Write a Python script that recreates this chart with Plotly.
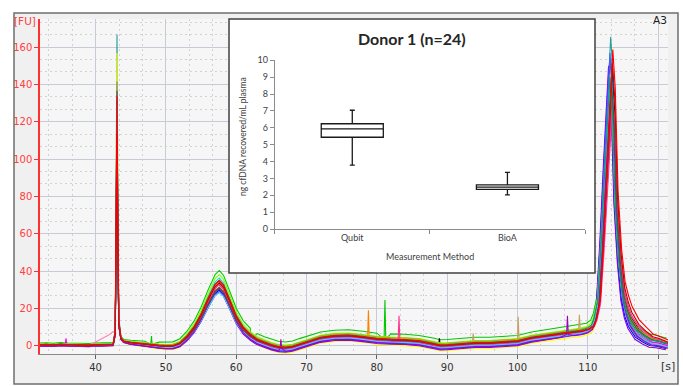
import plotly.graph_objects as go

# ---------------- electropherogram data ----------------
# sample times [s]
times = [32.1, 33, 34, 35, 36, 37, 38, 39, 40, 41, 42, 42.5, 42.8, 42.95, 43.05, 43.15, 43.3, 43.6,
         44, 45, 46, 47, 48, 49, 50, 51, 52, 53, 54, 55, 56, 57, 57.6, 58.2, 59, 60, 61, 62, 63, 64,
         65, 66, 67, 68, 69, 70, 71, 72, 74, 76, 78, 80, 82, 84, 86, 88, 89, 90, 92, 94, 96, 98, 100,
         102, 104, 106, 108, 109, 110, 110.6, 111, 111.5, 112, 112.5, 113, 113.25, 113.6, 114, 114.5,
         115, 115.5, 116, 117, 118, 119, 120, 121, 121.4]
# common baseline [FU]
background = [0.3, 0.5, 0.2, 0.6, 0.4, 0.2, 0.3, 0.1, 0.3, 0.4, 0.5, 0.6, 0.8, 1.0, 1.5, 2.0, 2.5, 2.8,
              2.3, 1.5, 1.0, 0.6, 0.2, -0.2, -0.5, -0.4, 0.0, 0.2, 0.3, 0.3, 0.3, 0.3, 0.3, 0.2, 0.2, 0.1, 0.0, 0.0, -0.3, -0.5,
              -1.0, -1.5, -1.5, -1.0, 0.3, 1.5, 2.8, 3.8, 4.8, 5.0, 4.2, 3.2, 2.8, 2.6, 2.0, 0.6, -0.3, -0.2, 0.4, 1.0, 1.0, 1.4, 2.0,
              3.8, 5.0, 6.0, 7.0, 7.5, 8.5, 9.5, 10, 10, 10, 10, 10, 10, 10, 8, 7,
              6, 5.5, 5, 4, 3, 2, 1.5, 0.5, 0.2]
# relative shape of the lower marker (43 s)
lower_marker = [0, 0, 0, 0, 0, 0, 0, 0, 0, 0, 0, 0, 0.05, 0.6, 1.0, 0.55, 0.08, 0.01,
                0, 0, 0, 0, 0, 0, 0, 0, 0, 0, 0, 0, 0, 0, 0, 0, 0, 0, 0, 0, 0, 0,
                0, 0, 0, 0, 0, 0, 0, 0, 0, 0, 0, 0, 0, 0, 0, 0, 0, 0, 0, 0, 0, 0, 0,
                0, 0, 0, 0, 0, 0, 0, 0, 0, 0, 0, 0, 0, 0, 0, 0,
                0, 0, 0, 0, 0, 0, 0, 0, 0]
# relative shape of the cfDNA fragment peak (~57.6 s)
fragment_peak = [0, 0, 0, 0, 0, 0, 0, 0, 0, 0, 0, 0, 0, 0, 0, 0, 0, 0,
                 0, 0, 0, 0, 0, 0, 0, 0, 0.03, 0.13, 0.27, 0.47, 0.72, 0.94, 1.0, 0.93, 0.72, 0.45, 0.27, 0.16, 0.09, 0.05,
                 0.025, 0.01, 0, 0, 0, 0, 0, 0, 0, 0, 0, 0, 0, 0, 0, 0, 0, 0, 0, 0, 0, 0, 0,
                 0, 0, 0, 0, 0, 0, 0, 0, 0, 0, 0, 0, 0, 0, 0, 0,
                 0, 0, 0, 0, 0, 0, 0, 0, 0]
# relative shape of the upper marker (~113 s)
upper_marker = [0, 0, 0, 0, 0, 0, 0, 0, 0, 0, 0, 0, 0, 0, 0, 0, 0, 0,
                0, 0, 0, 0, 0, 0, 0, 0, 0, 0, 0, 0, 0, 0, 0, 0, 0, 0, 0, 0, 0, 0,
                0, 0, 0, 0, 0, 0, 0, 0, 0, 0, 0, 0, 0, 0, 0, 0, 0, 0, 0, 0, 0, 0, 0,
                0, 0, 0, 0, 0, 0, 0.005, 0.03, 0.1, 0.33, 0.62, 0.9, 1.0, 0.86, 0.5, 0.28,
                0.15, 0.09, 0.055, 0.02, 0.008, 0, 0, 0, 0]
# tail after the upper marker
marker_tail = [0, 0, 0, 0, 0, 0, 0, 0, 0, 0, 0, 0, 0, 0, 0, 0, 0, 0,
               0, 0, 0, 0, 0, 0, 0, 0, 0, 0, 0, 0, 0, 0, 0, 0, 0, 0, 0, 0, 0, 0,
               0, 0, 0, 0, 0, 0, 0, 0, 0, 0, 0, 0, 0, 0, 0, 0, 0, 0, 0, 0, 0, 0, 0,
               0, 0, 0, 0, 0, 0, 0, 0, 0, 0, 0, 0, 0, 0, 0, 0.3,
               0.6, 0.8, 0.8, 0.7, 0.55, 0.4, 0.3, 0.2, 0.2]
# how strongly each sample's baseline offset shows along the run
drift = [0.3, 0.3, 0.3, 0.3, 0.3, 0.3, 0.3, 0.3, 0.3, 0.3, 0.3, 0.3, 0.3, 0.3, 0.3, 0.3, 0.3, 0.3,
         0.3, 0.4, 0.45, 0.5, 0.55, 0.6, 0.65, 0.7, 0.75, 0.8, 0.85, 0.9, 0.95, 1, 1, 1, 1, 1, 1, 1, 1, 1,
         1, 1, 1, 1, 1, 1, 1, 1, 1, 1, 1, 1, 1, 1, 1, 1, 1, 1, 1, 1, 1, 1, 1,
         1, 1, 1, 1, 1, 1, 1, 1, 1, 1, 1, 1, 1, 1, 1, 1,
         1, 1, 1, 1, 1, 1, 1, 1, 1]

# 24 samples
trace_colors = ["#2a9d9d", "#ffff00", "#808080", "#00c800", "#0000ff", "#ff00ff", "#00e0e0", "#000000",
                "#ff8000", "#8000ff", "#c8a064", "#ff80c0", "#80ff00", "#008080", "#a05020", "#4060ff",
                "#b0b000", "#ff3090", "#60c0ff", "#a000c0", "#505050", "#00a070", "#c00000", "#ff0000"]
lower_marker_height = [165, 156, 140, 120, 118, 110, 125, 115, 100, 112, 120, 122,
                       104, 130, 108, 115, 118, 125, 128, 110, 135, 118, 112, 132]
fragment_height = [28, 35, 31, 36.5, 31, 33, 35, 32, 34, 30.5, 33, 32,
                   36, 29.5, 31, 30, 33, 33, 29, 32, 30, 34, 33, 34]
upper_marker_height = [155, 138, 125, 130, 140, 120, 132, 135, 128, 142, 118, 124,
                       134, 145, 123, 148, 128, 122, 136, 131, 127, 133, 141, 148]
upper_marker_shift = [0.0, 0.1, -0.1, -0.2, -0.25, 0.15, 0.0, 0.2, 0.05, -0.3, 0.1, 0.25,
                      -0.15, 0.0, 0.2, -0.1, 0.1, 0.3, -0.05, 0.05, 0.15, -0.1, 0.25, 0.3]
baseline_offset = [0.5, -2.5, 0.0, 3.5, -1.5, -0.5, 1.0, 0.5, 0.8, -2.0, 1.2, 0.5,
                   1.8, -1.0, 0.0, -1.2, 1.5, 0.0, -0.8, -1.6, 0.2, 0.8, 0.4, 0.6]
tail_height = [1, -1, 0, 2, -1, 1, 0, 3, 1, -2, 2, 4,
               0, 0, 3, -1, 1, 5, 0, 0, 2, 1, 6, 9]
# narrow spikes: (sample, time, baseline there, tip)
spikes = [(8, 78.8, 4.0, 19.0), (3, 81.15, 3.5, 24.5), (17, 83.15, 3.0, 16.0),
          (10, 100.1, 3.0, 15.5), (19, 107.1, 6.0, 16.0), (10, 108.8, 8.0, 16.5),
          (3, 47.96, 0.8, 5.2), (3, 62.2, 4.0, 7.0), (19, 66.35, -1.5, 3.4),
          (5, 35.8, 0.3, 4.0), (7, 88.9, 0.5, 4.0), (10, 93.7, 2.0, 6.6)]
# pink sample with a ramp before the lower marker
ramp_sample = 11
ramp_points = {40: 2.0, 41: 4.0, 42: 6.0, 42.5: 7.5}

# ---------------- inset box plot data ----------------
methods = ["Qubit", "BioA"]
box_q1 = [5.44, 2.35]
box_median = [5.93, 2.48]
box_q3 = [6.24, 2.61]
box_low = [3.79, 2.02]
box_high = [7.04, 3.36]

# ---------------- figure ----------------
W, H = 683, 386
L, R, T, B = 40, 15, 19, 32
PW, PH = W - L - R, H - T - B


def px(xp):
    return (xp - L) / PW


def py(yp):
    return (H - B - yp) / PH


fig = go.Figure()

for i, col in enumerate(trace_colors):
    pts = []
    for k, t in enumerate(times):
        y = (background[k] + drift[k] * baseline_offset[i] + lower_marker[k] * lower_marker_height[i]
             + fragment_peak[k] * fragment_height[i] + upper_marker[k] * upper_marker_height[i]
             + marker_tail[k] * tail_height[i])
        if i == ramp_sample and t in ramp_points:
            y = ramp_points[t]
        x = t + (upper_marker_shift[i] if t >= 106 else 0.0)
        pts.append((x, y))
    for (s, ts, yb, yt) in spikes:
        if s == i:
            pts += [(ts - 0.12, yb), (ts, yt), (ts + 0.12, yb)]
    pts.sort(key=lambda p: p[0])
    fig.add_trace(go.Scatter(x=[p[0] for p in pts], y=[p[1] for p in pts], mode="lines",
                             line=dict(color=col, width=1.1), hoverinfo="skip", showlegend=False))

fig.add_trace(go.Box(x=methods, q1=box_q1, median=box_median, q3=box_q3,
                     lowerfence=box_low, upperfence=box_high, xaxis="x2", yaxis="y2",
                     fillcolor="white", line=dict(color="#1a1a1a", width=1.3),
                     whiskerwidth=0.08, width=0.4, boxpoints=False, showlegend=False,
                     hoverinfo="skip"))

main_font = "DejaVu Sans"
inset_font = "Lato"

fig.update_layout(
    width=W, height=H, margin=dict(l=L, r=R, t=T, b=B),
    paper_bgcolor="white", plot_bgcolor="rgba(0,0,0,0)",
    xaxis=dict(range=[32.1, 121.4], tickvals=[40, 50, 60, 70, 80, 90, 100, 110, 120],
               ticktext=["40", "50", "60", "70", "80", "90", "100", "110", ""],
               ticks="outside", ticklen=4, tickcolor="#606060",
               tickfont=dict(family=main_font, size=10, color="#333333"),
               showline=True, linecolor="#8a8a8a", linewidth=1.2, zeroline=False,
               showgrid=True, gridcolor="#c6cbd6", gridwidth=1,
               minor=dict(tick0=40, dtick=10 / 3, showgrid=True, gridcolor="#d2d2d2",
                          griddash="2px,3px", ticks=""),
               fixedrange=True),
    yaxis=dict(range=[-4.45, 175], tickvals=[0, 20, 40, 60, 80, 100, 120, 140, 160],
               ticks="outside", ticklen=4, tickcolor="#ff3030",
               tickfont=dict(family=main_font, size=10, color="#ff4040"),
               showline=True, linecolor="#ff3030", linewidth=1.5, zeroline=False,
               showgrid=True, gridcolor="#c6cbd6", gridwidth=1,
               minor=dict(tick0=0, dtick=20 / 3, showgrid=True, gridcolor="#d2d2d2",
                          griddash="2px,3px", ticks=""),
               fixedrange=True),
    xaxis2=dict(domain=[px(274.7), px(585)], anchor="y2", type="category",
                categoryorder="array", categoryarray=methods, range=[-0.5, 1.5],
                showline=True, linecolor="#8c8c8c", linewidth=1, ticks="outside",
                tickson="boundaries", ticklen=4, tickcolor="#8c8c8c",
                tickfont=dict(family=inset_font, size=9, color="#404040"),
                showgrid=False, zeroline=False, fixedrange=True),
    yaxis2=dict(domain=[py(229), py(60.3)], anchor="x2", range=[0, 10], dtick=1,
                showline=True, linecolor="#8c8c8c", linewidth=1, ticks="outside",
                ticklen=4, tickcolor="#8c8c8c",
                tickfont=dict(family=inset_font, size=9, color="#404040"),
                showgrid=False, zeroline=False, fixedrange=True),
    shapes=[
        # outer frame
        dict(type="rect", xref="paper", yref="paper", x0=px(14), x1=px(678), y0=py(384), y1=py(13),
             fillcolor="#f0f0f0", line=dict(color="#6e6e6e", width=1.5), layer="below"),
        # plot area
        dict(type="rect", xref="paper", yref="paper", x0=0, x1=1, y0=0, y1=1,
             fillcolor="#f6f6f7", line=dict(width=0), layer="below"),
        # inset white panel (covers grid, below traces)
        dict(type="rect", xref="x", yref="y", x0=58.96, x1=111.02, y0=38.94, y1=180,
             fillcolor="white", line=dict(width=0), layer="between"),
        # inset border
        dict(type="rect", xref="paper", yref="paper", x0=px(229), x1=px(595), y0=py(273), y1=py(19),
             fillcolor="rgba(0,0,0,0)", line=dict(color="#404040", width=1.5), layer="above"),
    ],
    annotations=[
        dict(text="[FU]", x=px(24.5), y=py(21), xref="paper", yref="paper", showarrow=False,
             xanchor="center", yanchor="middle", font=dict(family=main_font, size=10.5, color="#ff4040")),
        dict(text="A3", x=px(660), y=py(20.5), xref="paper", yref="paper", showarrow=False,
             xanchor="center", yanchor="middle", font=dict(family=main_font, size=10.5, color="#202020")),
        dict(text="[s]", x=px(668), y=py(366.5), xref="paper", yref="paper", showarrow=False,
             xanchor="center", yanchor="middle", font=dict(family=main_font, size=11, color="#333333")),
        dict(text="<b>Donor 1 (n=24)</b>", x=px(412), y=py(38), xref="paper", yref="paper",
             showarrow=False, xanchor="center", yanchor="middle",
             font=dict(family=inset_font, size=16, color="#262626")),
        dict(text="ng cfDNA recovered/mL plasma", x=px(243), y=py(137), xref="paper", yref="paper",
             showarrow=False, xanchor="center", yanchor="middle", textangle=-90,
             font=dict(family=inset_font, size=8.5, color="#404040")),
        dict(text="Measurement Method", x=px(430), y=py(256), xref="paper", yref="paper",
             showarrow=False, xanchor="center", yanchor="middle",
             font=dict(family=inset_font, size=9, color="#404040")),
    ],
)

fig.write_html("out.html", config={"displayModeBar": False},
               post_script="document.body.style.margin='0px';document.documentElement.style.overflow='hidden';")
